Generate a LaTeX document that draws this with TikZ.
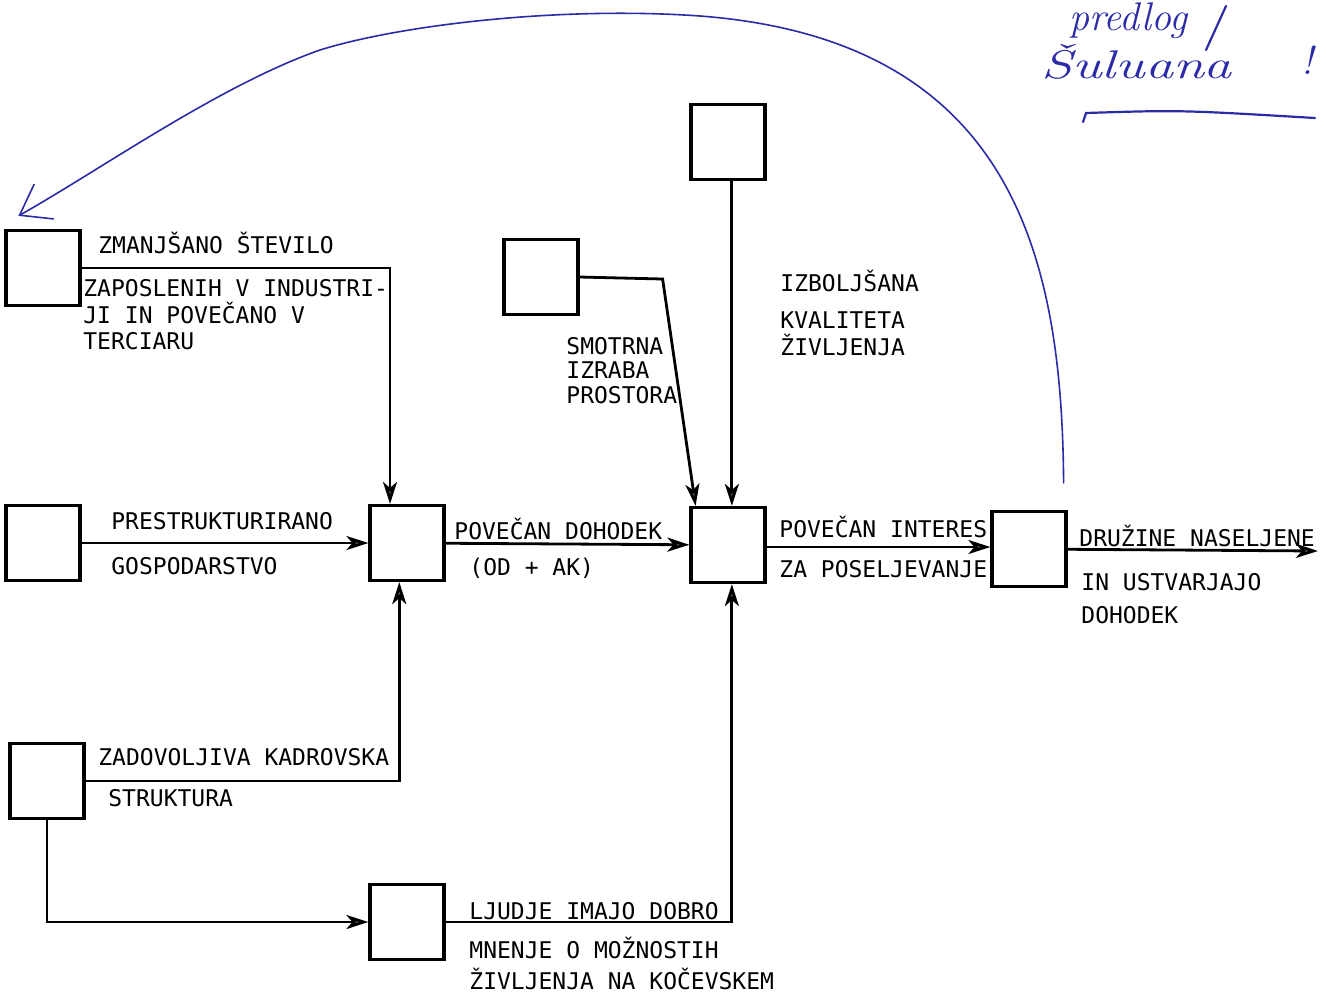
\documentclass[tikz,border=0pt]{standalone}
\usepackage{fontspec}
\setmonofont{DejaVu Sans Mono}
\usepackage{xcolor}
\usepackage[]{tikz}
\usetikzlibrary{positioning,calc}
\usetikzlibrary{arrows.meta}
\definecolor{penBlue}{HTML}{2B2BA8}
\definecolor{tipGray}{HTML}{5A5A5A}
\tikzstyle{box}  =[draw, line width=1.6pt, minimum width=37pt, minimum height=37.5pt, inner sep=0pt]
\tikzstyle{lbl}  =[anchor=base west, inner sep=0pt, font=\ttfamily\fontsize{11.5}{12}\selectfont]
\tikzstyle{hand} =[anchor=base west, inner sep=0pt, text=penBlue, font=\itshape\fontsize{20}{20}\selectfont]
\tikzstyle{pen}  =[penBlue, line width=0.8pt, line cap=round]

\begin{document}
\begin{tikzpicture}[x=0.5pt, y=-0.5pt, >={Stealth[length=11pt,width=7pt,inset=3pt,fill=tipGray]}, line width=1.4pt, on grid]
      \useasboundingbox (0,0) rectangle (1326,998);
      \clip (0,0) rectangle (1326,998);
      % boxes
      \node[box] (dohodek) at (407,543) {};
      \node[box] (interes) [below right=1pt and 160.5pt of dohodek] {};
      \node[box] (druzine) [below right=2pt and 150.5pt of interes] {};
      \node[box] (mnenje) [below=189.5pt of dohodek] {};
      \node[box] (gospod) [left=182pt of dohodek] {};
      \node[box] (zaposleni) [above=137.5pt of gospod] {};
      \node[box] (kadri) [below right=119pt and 2pt of gospod] {};
      \node[box] (prostor) [above left=134pt and 93.5pt of interes] {};
      \node[box] (kvaliteta) [above=201.5pt of interes] {};
      % labels
      \node[lbl] (tZap1) at (97,253) {ZMANJŠANO ŠTEVILO};
      \node[lbl] (tZap2) at (82,296) {ZAPOSLENIH V INDUSTRI-};
      \node[lbl] (tZap3) at (82,323) {JI IN POVEČANO V};
      \node[lbl] (tZap4) at (82,349) {TERCIARU};
      \node[lbl] (tGos1) at (110,529) {PRESTRUKTURIRANO};
      \node[lbl] (tGos2) at (110,574) {GOSPODARSTVO};
      \node[lbl] (tKad1) at (97,765) {ZADOVOLJIVA KADROVSKA};
      \node[lbl] (tKad2) at (107,806) {STRUKTURA};
      \node[lbl] (tDoh1) at (453,539) {POVEČAN DOHODEK};
      \node[lbl] (tDoh2) at (468,575) {(OD + AK)};
      \node[lbl] (tPro1) at (565,354) {SMOTRNA};
      \node[lbl] (tPro2) at (565,378) {IZRABA};
      \node[lbl] (tPro3) at (565,403) {PROSTORA};
      \node[lbl] (tKva1) at (779,291) {IZBOLJŠANA};
      \node[lbl] (tKva2) at (779,328) {KVALITETA};
      \node[lbl] (tKva3) at (779,355) {ŽIVLJENJA};
      \node[lbl] (tInt1) at (778,537) {POVEČAN INTERES};
      \node[lbl] (tInt2) at (778,577) {ZA POSELJEVANJE};
      \node[lbl] (tDru1) at (1078,546) {DRUŽINE NASELJENE};
      \node[lbl] (tDru2) at (1080,590) {IN USTVARJAJO};
      \node[lbl] (tDru3) at (1080,623) {DOHODEK};
      \node[lbl] (tMne1) at (468,919) {LJUDJE IMAJO DOBRO};
      \node[lbl] (tMne2) at (468,958) {MNENJE O MOŽNOSTIH};
      \node[lbl] (tMne3) at (468,989) {ŽIVLJENJA NA KOČEVSKEM};
      % connectors
      \coordinate (dohIn1) at ($(dohodek.north west)!0.28!(dohodek.north east)$);
      \coordinate (dohIn2) at ($(dohodek.south west)!0.4!(dohodek.south east)$);
      \coordinate (intIn1) at ($(interes.north west)!0.55!(interes.north east)$);
      \coordinate (intIn2) at ($(interes.north west)!0.08!(interes.north east)$);
      \coordinate (intIn3) at ($(interes.south west)!0.55!(interes.south east)$);
      \coordinate (bend) at ($(prostor.east)+(83,2)$);
      \coordinate (izhod) at (1318,551);
      \draw[->] (zaposleni.east) -| (dohIn1);
      \draw[->] (gospod) -- (dohodek);
      \draw[->] (kadri.east) -| (dohIn2);
      \draw[->] (kadri.south) |- (mnenje.west);
      \draw[->] (mnenje.east) -| (intIn3);
      \draw[->] (prostor.east) -- (bend) -- (intIn2);
      \draw[->] (kvaliteta.south -| intIn1) -- (intIn1);
      \draw[->] (dohodek) -- (interes);
      \draw[->] ($(interes.east)+(0,2)$) -- (druzine.west |- {$(interes.east)+(0,2)$});
      \draw[->] (druzine) -- (izhod);
      % handwritten note
      \coordinate (fbStart) at ($(druzine.north east)+(-4,-27)$);
      \coordinate (fbEnd) at ($(zaposleni.north west)+(14,-13)$);
      \draw[pen, ->, >={Straight Barb[length=14pt,width=20pt]}] (fbStart) .. controls (1062,260) and (1015,40) .. (700,16)
            .. controls (560,6) and (400,25) .. (320,50) .. controls (220,85) and (100,170) .. (fbEnd);
      \node[hand] (hw1) at (1068,30) {predlog};
      \node[hand] (hw2) at (1040,78) {\scalebox{1.4}[1]{Šuluana}};
      \node[hand] (hw3) at (1300,74) {!};
      \draw[pen, line width=1.1pt] (1206,50) -- (1226,6);
      \draw[pen, line width=1.1pt] (1083,122) -- (1086,113) .. controls (1180,110) .. (1315,118);
    \end{tikzpicture}
\end{document}
